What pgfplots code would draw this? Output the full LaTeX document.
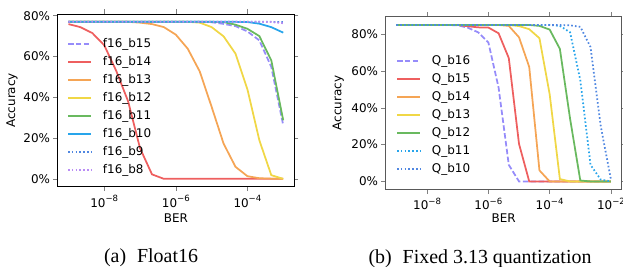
\documentclass[border=0pt]{standalone}
\usepackage{fontspec}
\setmainfont{DejaVu Sans}
\newfontfamily\capfont{Liberation Serif}
\usepackage{pgfplots}
\pgfplotsset{compat=1.18}
\usepackage{pgfplotstable}

\definecolor{cpur}{RGB}{150,140,250}
\definecolor{cred}{RGB}{238,95,95}
\definecolor{corg}{RGB}{245,165,85}
\definecolor{cyel}{RGB}{240,215,70}
\definecolor{cgrn}{RGB}{105,185,95}
\definecolor{cblu}{RGB}{40,165,235}
\definecolor{cdblu}{RGB}{80,135,225}
\definecolor{cdpur}{RGB}{185,140,245}

\newcommand{\pw}[1]{10\raisebox{0.45em}{\fontsize{8.6}{9}\selectfont −#1}}

\pgfplotstableread{
x b15 b14 b13 b12 b11 b10 b9 b8
1e-9     77   75.9 77   77   77   77   77   77
2.154e-9 77   74.4 77   77   77   77   77   77
4.642e-9 77   71.5 77   77   77   77   77   77
1e-8     77   65.5 77   77   77   77   77   77
2.154e-8 77   53   77   77   77   77   77   77
4.642e-8 77   38   77   77   77   77   77   77
1e-7     77   15   76.6 77   77   77   77   77
2.154e-7 77   2.2  75.9 77   77   77   77   77
4.642e-7 77   0    74.4 77   77   77   77   77
1e-6     77   0    70.7 77   77   77   77   77
2.154e-6 77   0    63.8 77   77   77   77   77
4.642e-6 77   0    52.7 76.6 77   77   77   77
1e-5     76.8 0    35.3 74.4 77   77   77   77
2.154e-5 76.0 0    17.3 69.9 76.9 77   77   77
4.642e-5 74.9 0    5.9  61.4 75.6 77   77   77
1e-4     72.3 0    1.3  43.9 73.6 76.9 77   77
2.154e-4 67.9 0    0.3  18.9 70   76.1 77   77
4.642e-4 54.9 0    0.1  1.8  58.1 74.4 77   76.9
1e-3     26.3 0    0    0    28.7 71.7 76.9 76.3
}\leftdata

\pgfplotstableread{
x q16 q15 q14 q13 q12 q11 q10
1e-9     85   85   85   85   85   85   85
2.154e-9 85   85   85   85   85   85   85
4.642e-9 85   85   85   85   85   85   85
1e-8     85   85   85   85   85   85   85
2.154e-8 85   85   85   85   85   85   85
4.642e-8 85   85   85   85   85   85   85
1e-7     84.8 85   85   85   85   85   85
2.154e-7 83.5 84.3 85   85   85   85   85
4.642e-7 81   83.7 85   85   85   85   85
1e-6     75.5 83.6 85   85   85   85   85
2.154e-6 51   80.5 85   85   85   85   85
4.642e-6 9    67   84.5 85   85   85   85
1e-5     0    20.4 78.3 84.4 85   85   85
2.154e-5 0    0    62.2 82.7 85   85   85
4.642e-5 0    0    6    77.8 84.5 85   85
1e-4     0    0    0    47.4 82.5 85   85
2.154e-4 0    0    0    1.3  72   84.5 85
4.642e-4 0    0    0    0    34   81   84.8
1e-3     0    0    0    0    0.5  55   84
2.154e-3 0    0    0    0    0    9    73
4.642e-3 0    0    0    0    0    1    30
1e-2     0    0    0    0    0    0    1
}\rightdata

\tikzset{
  dsh/.style={dash pattern=on 5.5bp off 2.4bp},
  dtt/.style={dash pattern=on 1.6bp off 2.2bp},
}
\pgfplotsset{
  legend image code/.code={\draw[#1] (0bp,4bp) -- (23bp,4bp);},
  every axis/.append style={
    scale only axis,
    tick align=outside,
    major tick length=4.5bp,
    tick style={line width=0.6bp},
    axis line style={line width=0.7bp},
    font=\fontsize{12}{14}\selectfont,
    tick label style={font=\fontsize{12}{14}\selectfont},
    yticklabel style={inner sep=0pt, xshift=-3bp},
    xticklabel style={inner sep=0pt, yshift=-4bp},
    legend cell align=left,
    legend style={draw=none, fill=none, inner sep=0pt, column sep=11bp, row sep=6bp,
      nodes={inner sep=0pt, text height=9bp, text depth=3bp, anchor=base west},
      font=\fontsize{12}{14}\selectfont, anchor=north west},
  },
  every axis plot/.append style={line width=1.75bp},
}

\begin{document}
\begin{tikzpicture}
\begin{axis}[
  xmode=log,
  xminorticks=false,
  at={(57.7bp,80.3bp)}, anchor=south west,
  width=236.3bp, height=172.7bp,
  xmin=5.0e-10, xmax=2.0e-3,
  ymin=-3.85, ymax=80.85,
  ytick={0,20,40,60,80},
  yticklabels={0\%,20\%,40\%,60\%,80\%},
  xtick={1e-8,1e-6,1e-4},
  xticklabels={\pw{8},\pw{6},\pw{4}},
  xlabel={BER}, ylabel={Accuracy},
  xlabel style={at={(axis description cs:0.5,0)}, anchor=base, yshift=-36bp},
  ylabel style={at={(axis description cs:-0.1935,0.5)}, anchor=center},
  legend style={at={(axis description cs:0.0394,0.8581)}},
]
\addplot[cpur, dsh] table[x=x,y=b15] {\leftdata};
\addlegendentry{f16\_b15}
\addplot[cred] table[x=x,y=b14] {\leftdata};
\addlegendentry{f16\_b14}
\addplot[corg] table[x=x,y=b13] {\leftdata};
\addlegendentry{f16\_b13}
\addplot[cyel] table[x=x,y=b12] {\leftdata};
\addlegendentry{f16\_b12}
\addplot[cgrn] table[x=x,y=b11] {\leftdata};
\addlegendentry{f16\_b11}
\addplot[cblu] table[x=x,y=b10] {\leftdata};
\addlegendentry{f16\_b10}
\addplot[cdblu, dtt] table[x=x,y=b9] {\leftdata};
\addlegendentry{f16\_b9}
\addplot[cdpur, dtt] table[x=x,y=b8] {\leftdata};
\addlegendentry{f16\_b8}
\end{axis}

\begin{axis}[
  xmode=log,
  xminorticks=false,
  at={(385.7bp,77.7bp)}, anchor=south west,
  width=236bp, height=172.8bp,
  axis line style={black!65},
  xmin=4.47e-10, xmax=2.24e-2,
  ymin=-4.27, ymax=89.6,
  ytick={0,20,40,60,80},
  yticklabels={0\%,20\%,40\%,60\%,80\%},
  xtick={1e-8,1e-6,1e-4,1e-2},
  xticklabels={\pw{8},\pw{6},\pw{4},\pw{2}},
  xlabel={BER}, ylabel={Accuracy},
  xlabel style={at={(axis description cs:0.5,0)}, anchor=base, yshift=-33.4bp},
  ylabel style={at={(axis description cs:-0.2008,0.5)}, anchor=center},
  legend style={at={(axis description cs:0.0436,0.7743)}},
]
\addplot[cpur, dsh] table[x=x,y=q16] {\rightdata};
\addlegendentry{Q\_b16}
\addplot[cred] table[x=x,y=q15] {\rightdata};
\addlegendentry{Q\_b15}
\addplot[corg] table[x=x,y=q14] {\rightdata};
\addlegendentry{Q\_b14}
\addplot[cyel] table[x=x,y=q13] {\rightdata};
\addlegendentry{Q\_b13}
\addplot[cgrn] table[x=x,y=q12] {\rightdata};
\addlegendentry{Q\_b12}
\addplot[cblu, dtt] table[x=x,y=q11] {\rightdata};
\addlegendentry{Q\_b11}
\addplot[cdblu, dtt] table[x=x,y=q10] {\rightdata};
\addlegendentry{Q\_b10}
\end{axis}

\node[anchor=base, font=\capfont\fontsize{20}{24}\selectfont] at (151bp,5bp) {(a)\hspace{0.55em}Float16};
\node[anchor=base, font=\capfont\fontsize{20}{24}\selectfont] at (480bp,4bp) {(b)\hspace{0.55em}Fixed 3.13 quantization};

\pgfresetboundingbox
\useasboundingbox (0,0) rectangle (623bp,267bp);
\end{tikzpicture}
\end{document}
